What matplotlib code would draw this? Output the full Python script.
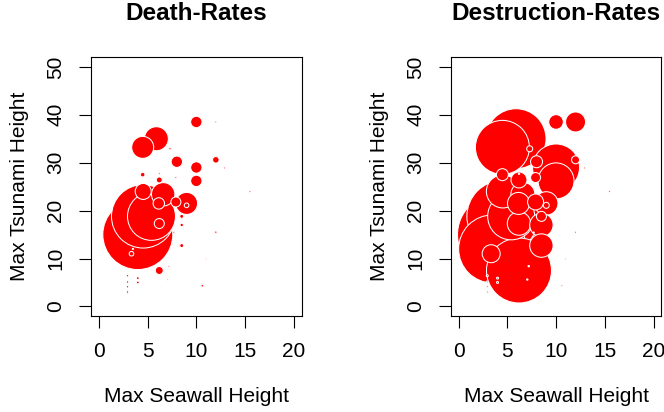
import numpy as np
import matplotlib
matplotlib.use('Agg')
import matplotlib.pyplot as plt

plt.rcParams['font.family'] = ['Liberation Sans', 'DejaVu Sans']

# ---------- data ----------
# seawall height / tsunami height of each town, plus its two rates
seawall = [4.0, 4.55, 3.5, 6.2, 5.9, 4.5, 5.4, 10.0, 10.0, 4.55,
           6.6, 9.0, 6.15, 6.2, 7.9, 9.0, 3.35, 10.0, 8.0, 12.0,
           4.5, 6.2, 8.5, 8.5, 8.5, 12.0, 7.3, 12.0, 12.9, 15.5,
           7.9, 4.0, 4.0, 2.95, 2.95, 2.95, 2.95, 10.6, 11.0, 7.05,
           7.2, 7.7, 6.2]
tsunami = [15.0, 18.8, 12.0, 7.5, 35.0, 33.2, 18.8, 29.0, 26.2, 24.0,
           23.4, 21.5, 21.5, 17.3, 21.8, 21.1, 11.0, 38.5, 30.2, 30.6,
           27.5, 26.4, 18.8, 17.0, 12.7, 15.5, 32.9, 38.5, 28.9, 24.0,
           26.9, 5.9, 5.0, 6.4, 5.1, 4.1, 3.0, 4.3, 9.9, 5.6,
           8.4, 15.4, 27.7]
death_rate = [35, 31.7, 0.6, 4, 12, 11, 24, 5.7, 5.7, 8,
              11.7, 11, 5.7, 5, 5, 2.3, 2.3, 5.7, 5.7, 3.3,
              2.3, 3, 2, 1.7, 2, 1.2, 1.2, 1, 1, 1,
              1, 1.4, 1.4, 1.2, 1.2, 1.2, 1.2, 1.3, 0.9, 0.8,
              1, 1, 1]
destruction_rate = [40, 36, 34, 32.5, 30, 27, 23.5, 23.5, 18, 16.5,
                    12, 11.7, 11, 11.7, 8, 3, 9, 7.3, 6, 4,
                    6, 8, 5, 11.7, 11.7, 1, 3, 10, 1, 1,
                    5, 1, 1, 1, 1, 1, 1, 1, 0.9, 0.7,
                    0.7, 0.7, 0.7]

x_ticks = [0, 5, 10, 15, 20]
y_ticks = [0, 10, 20, 30, 40, 50]

DPI = 100
W, H = 664, 412
FS = 15


def bubble_panel(ax, sizes, max_r_px, title):
    sizes = np.asarray(sizes, dtype=float)
    r_px = sizes / sizes.max() * max_r_px
    order = np.argsort(-r_px)
    x = np.asarray(seawall)[order]
    y = np.asarray(tsunami)[order]
    s = (2 * r_px[order] * 72 / DPI) ** 2
    ax.scatter(x, y, s=s, c='#ff0000', edgecolors='white', linewidths=0.75)

    ax.set_xlim(-0.8, 20.8)
    ax.set_ylim(-2, 52)
    ax.set_xticks(x_ticks)
    ax.set_yticks(y_ticks)
    ax.tick_params(direction='out', length=8.5, width=0.8, pad=10, labelsize=FS)
    for lab in ax.get_yticklabels():
        lab.set_rotation(90)
        lab.set_va('center')
    for sp in ax.spines.values():
        sp.set_linewidth(0.8)

    ax.set_xlabel('Max Seawall Height', fontsize=FS, va='center')
    ax.xaxis.set_label_coords(0.5, -0.313)
    ax.set_ylabel('Max Tsunami Height', fontsize=FS, va='center')
    ax.yaxis.set_label_coords(-0.34, 0.5)
    ax.text(0.5, 1.171, title, transform=ax.transAxes, ha='center', va='center',
            fontsize=17.5, fontweight='bold')


fig = plt.figure(figsize=(W / DPI, H / DPI), dpi=DPI)
ax1 = fig.add_axes([91 / W, 1 - 316 / H, 210.7 / W, 258.7 / H])
ax2 = fig.add_axes([450.7 / W, 1 - 316 / H, 210.7 / W, 258.7 / H])

bubble_panel(ax1, death_rate, 35, 'Death-Rates')
bubble_panel(ax2, destruction_rate, 40, 'Destruction-Rates')

fig.savefig('out.png', dpi=DPI)
